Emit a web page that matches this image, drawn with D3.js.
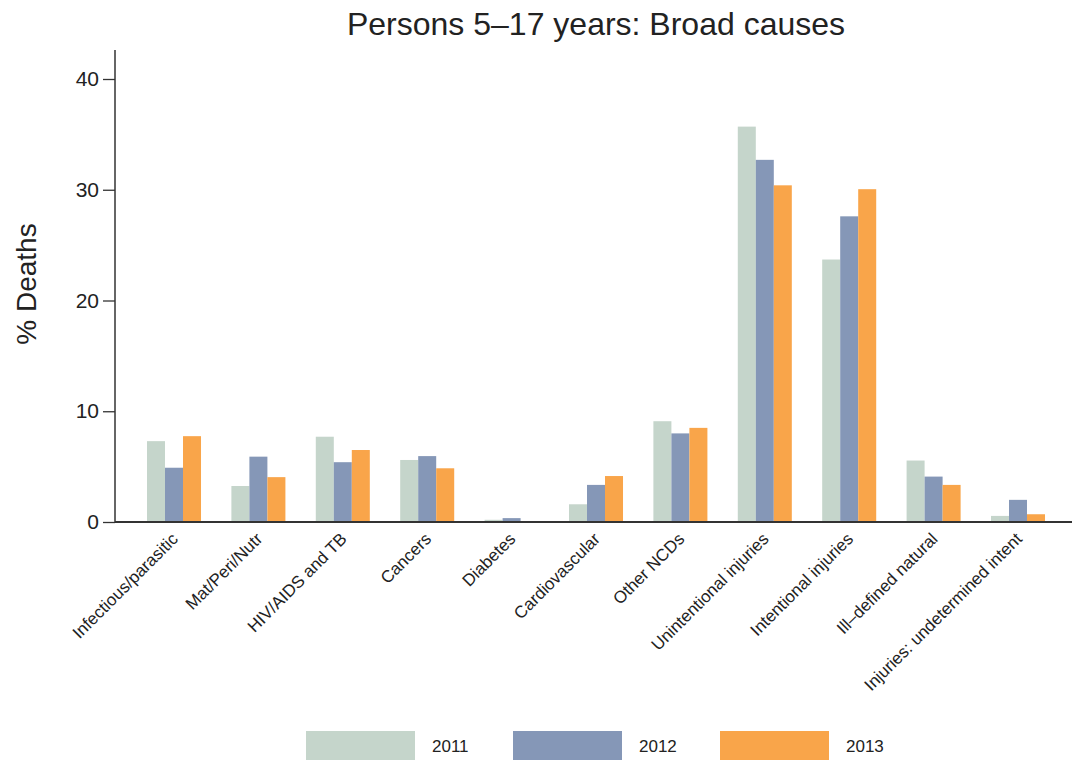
<!DOCTYPE html>
<html>
<head>
<meta charset="utf-8">
<script src="https://cdn.jsdelivr.net/npm/d3@7"></script>
<style>
  html, body { margin: 0; padding: 0; background: #fff; }
  svg { display: block; font-family: "Liberation Sans", Arial, Helvetica, sans-serif; }
</style>
</head>
<body>
<svg id="chart" width="1072" height="760"></svg>
<script>
const categories = ["Infectious/parasitic", "Mat/Peri/Nutr", "HIV/AIDS and TB", "Cancers", "Diabetes",
  "Cardiovascular", "Other NCDs", "Unintentional injuries", "Intentional injuries",
  "Ill\u2013defined natural", "Injuries: undetermined intent"];
const years = ["2011", "2012", "2013"];
const values2011 = [7.3, 3.25, 7.7, 5.6, 0.2, 1.6, 9.1, 35.7, 23.7, 5.55, 0.55];
const values2012 = [4.9, 5.9, 5.4, 5.95, 0.35, 3.35, 8.0, 32.7, 27.6, 4.1, 2.0];
const values2013 = [7.75, 4.05, 6.5, 4.85, 0, 4.15, 8.5, 30.4, 30.05, 3.35, 0.7];
const yTicks = [0, 10, 20, 30, 40];
const colors = ["#c5d5cb", "#8597b7", "#f9a54a"];
const title = "Persons 5\u201317 years: Broad causes";
const yLabel = "% Deaths";

const series = [values2011, values2012, values2013];
const svg = d3.select("#chart");

const axisLeft = 115, axisRight = 1072, baseY = 522, topY = 50;

const x0 = d3.scaleBand().domain(categories).range([131.8, 1060.2])
  .paddingInner(0.36).paddingOuter(0.18);
const x1 = d3.scaleBand().domain(years).range([0, x0.bandwidth()]);
const y = d3.scaleLinear().domain([0, 40]).range([baseY, 79]);
const color = d3.scaleOrdinal().domain(years).range(colors);

// bars
const groups = svg.append("g").selectAll("g").data(categories).join("g")
  .attr("transform", d => `translate(${x0(d)},0)`);
groups.selectAll("rect")
  .data((d, i) => years.map((yr, j) => ({ yr, v: series[j][i] })))
  .join("rect")
  .attr("x", d => x1(d.yr))
  .attr("width", x1.bandwidth())
  .attr("y", d => y(d.v))
  .attr("height", d => baseY - y(d.v))
  .attr("fill", d => color(d.yr));

// y axis
const yAxis = svg.append("g")
  .attr("transform", `translate(${axisLeft},0)`)
  .call(d3.axisLeft(y).tickValues(yTicks).tickSize(12).tickPadding(4).tickFormat(d3.format("d")));
yAxis.select(".domain").remove();
yAxis.selectAll(".tick line").attr("stroke", "#333").attr("stroke-width", 1.3);
yAxis.selectAll(".tick text").attr("font-size", 21).attr("fill", "#222")
  .attr("font-family", "Liberation Sans, Arial, sans-serif");
svg.append("line").attr("x1", axisLeft).attr("x2", axisLeft).attr("y1", topY).attr("y2", baseY + 1)
  .attr("stroke", "#333").attr("stroke-width", 1.5);

// x axis
const xAxis = svg.append("g")
  .attr("transform", `translate(0,${baseY})`)
  .call(d3.axisBottom(x0).tickSize(0).tickPadding(0));
xAxis.select(".domain").remove();
svg.append("line").attr("x1", axisLeft).attr("x2", axisRight).attr("y1", baseY).attr("y2", baseY)
  .attr("stroke", "#333").attr("stroke-width", 1.8);
xAxis.selectAll(".tick text")
  .attr("font-size", 17).attr("fill", "#222")
  .attr("font-family", "Liberation Sans, Arial, sans-serif")
  .attr("text-anchor", "end")
  .attr("dy", null)
  .attr("transform", "translate(5,18) rotate(-45)");

// title
svg.append("text").attr("x", 596).attr("y", 35).attr("text-anchor", "middle")
  .attr("font-size", 32).attr("fill", "#222").text(title);

// y label
svg.append("text").attr("transform", "translate(36,284) rotate(-90)")
  .attr("text-anchor", "middle").attr("font-size", 28).attr("fill", "#222").text(yLabel);

// legend
const legend = svg.append("g").selectAll("g").data(years).join("g")
  .attr("transform", (d, i) => `translate(${306 + i * 207},731)`);
legend.append("rect").attr("width", 109).attr("height", 29).attr("fill", d => color(d));
legend.append("text").attr("x", 126).attr("y", 21).attr("font-size", 17).attr("fill", "#222").text(d => d);
</script>
</body>
</html>
